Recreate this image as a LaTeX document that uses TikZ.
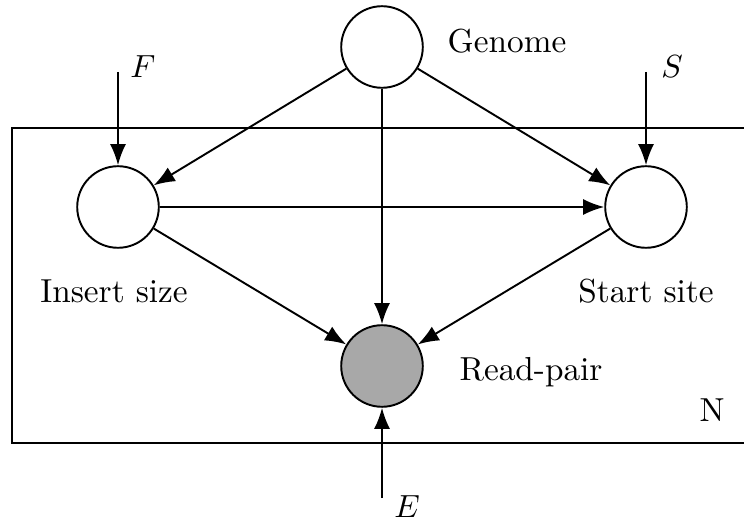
\documentclass[tikz,border=0pt]{standalone}
\usetikzlibrary{arrows.meta}
\begin{document}
\begin{tikzpicture}[x=0.3125pt,y=-0.3125pt,
  var/.style={circle,draw,line width=0.6pt,minimum size=25.5pt,inner sep=0pt},
  obs/.style={var,fill=black!34},
  edge/.style={line width=0.6pt,-{Latex[length=6.6pt,width=5pt]}},
  lbl/.style={inner sep=0pt,font=\fontsize{10.4}{12}\selectfont}]
\useasboundingbox (0,0) rectangle (744,527);
\clip (0,0) rectangle (744,527);
\draw[line width=0.6pt] (12,128) rectangle (800,443);
\node[var] (g) at (382,47) {};
\node[var] (i) at (118,207) {};
\node[var] (s) at (646,207) {};
\node[obs] (r) at (382,366) {};
\coordinate (f0) at (118,72);
\coordinate (s0) at (646,72);
\coordinate (e0) at (382,498);
\node[lbl] (gl) at (507,41) {Genome};
\node[lbl] (il) at (114,291) {Insert size};
\node[lbl] (sl) at (646,291) {Start site};
\node[lbl] (rl) at (531,372) {Read-pair};
\node[lbl] (nl) at (712,410) {N};
\node[lbl] (fl) at (143,67) {$F$};
\node[lbl] (sml) at (672,67) {$S$};
\node[lbl] (el) at (407,507) {$E$};
\draw[edge] (f0) -- (i);
\draw[edge] (s0) -- (s);
\draw[edge] (e0) -- (r);
\draw[edge] (g) -- (i);
\draw[edge] (g) -- (s);
\draw[edge] (g) -- (r);
\draw[edge] (i) -- (s);
\draw[edge] (i) -- (r);
\draw[edge] (s) -- (r);
\end{tikzpicture}
\end{document}
